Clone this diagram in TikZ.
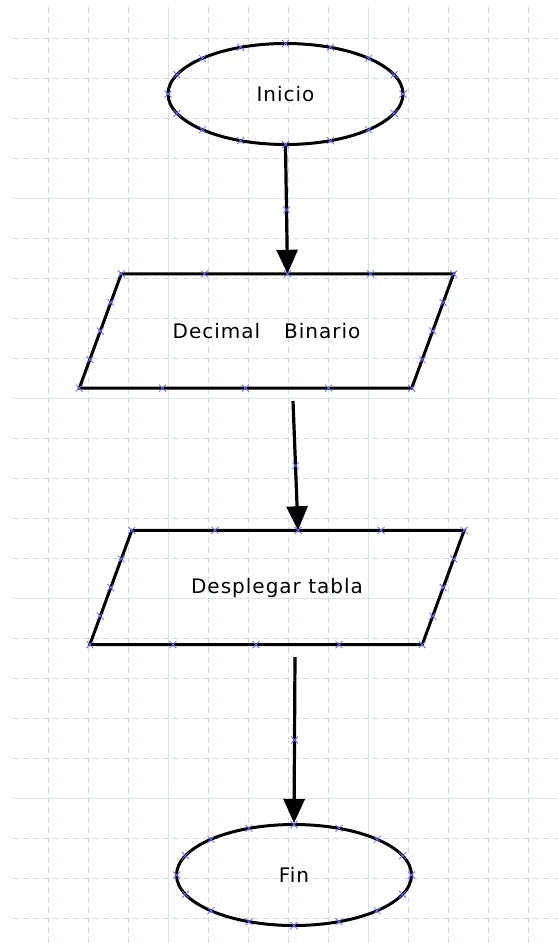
\documentclass[tikz,border=0pt]{standalone}
\usepackage{fontspec}
\setmainfont{DejaVu Sans}[LetterSpace=5]
\usetikzlibrary{shapes.geometric,arrows.meta,calc}

\definecolor{gridcol}{RGB}{200,221,221}
\definecolor{gridmaj}{RGB}{214,228,228}
\definecolor{markcol}{RGB}{110,110,245}

\tikzset{
  xmk/.pic={\draw[markcol, line width=0.8pt, arrows=-] (-3.5,-3.5) -- (3.5,3.5) (-3.5,3.5) -- (3.5,-3.5);}
}

\begin{document}
\begin{tikzpicture}[x=1pt, y=-1pt,
    terminal/.style={draw, ellipse, line width=3pt, minimum width=235, minimum height=101,
      inner sep=0pt, font=\fontsize{20}{24}\selectfont},
    iotext/.style={rectangle, minimum width=332, minimum height=114,
      inner sep=0pt, font=\fontsize{20}{24}\selectfont},
    iobox/.style={draw, line width=3pt, line join=miter},
    flow/.style={line width=3.2pt, -{Triangle[length=24pt,width=21pt]}},
    gridminor/.style={gridcol, line width=1pt, dash pattern=on 6pt off 4pt},
    gridmajor/.style={gridmaj, line width=1pt}]

  \useasboundingbox (0,0) rectangle (558,943);
  \fill[white] (0,0) rectangle (558,943);

  % grid
  \foreach \gx in {48,88,...,528} \draw[gridminor] (\gx,7) -- (\gx,943);
  \foreach \gy in {38,78,...,918} \draw[gridminor] (13,\gy) -- (558,\gy);
  \foreach \gx in {168,368} \draw[gridmajor] (\gx,7) -- (\gx,943);
  \foreach \gy in {198,398,598,798} \draw[gridmajor] (13,\gy) -- (558,\gy);

  % shapes
  \node[terminal] (inicio) at (285.5,94) {Inicio};
  \node[iotext] (p1) at (266.5,331) {Decimal\hspace{24pt}Binario};
  \node[iotext] (p2) at (277,587.5) {Desplegar tabla};
  \node[terminal] (fin) at (294,875) {Fin};

  % parallelogram outlines (slant 42)
  \foreach \p in {p1,p2} {
    \coordinate (\p tl) at ($(\p.north west)+(21,0)$);
    \coordinate (\p tr) at ($(\p.north east)+(21,0)$);
    \coordinate (\p br) at ($(\p.south east)+(-21,0)$);
    \coordinate (\p bl) at ($(\p.south west)+(-21,0)$);
    \coordinate (\p top) at ($(\p.north)+(21,0)$);
    \draw[iobox] (\p tl) -- (\p tr) -- (\p br) -- (\p bl) -- cycle;
  }

  % connectors
  \coordinate (s2) at (293,401);
  \coordinate (s3) at (295,657);
  \draw[flow] (inicio.south) -- (p1top);
  \draw[flow] (s2) -- (p2top);
  \draw[flow] (s3) -- (fin.north);

  % connection marks
  \foreach \t in {0,22.5,...,337.5} {
    \pic at ($(inicio.center)+({117.5*cos(\t)},{50.5*sin(\t)})$) {xmk};
    \pic at ($(fin.center)+({117.5*cos(\t)},{50.5*sin(\t)})$) {xmk};
  }
  \foreach \p in {p1,p2} {
    \foreach \k in {0,1,2,3} {
      \pic at ($(\p tl)!\k/4!(\p tr)$) {xmk};
      \pic at ($(\p tr)!\k/4!(\p br)$) {xmk};
      \pic at ($(\p br)!\k/4!(\p bl)$) {xmk};
      \pic at ($(\p bl)!\k/4!(\p tl)$) {xmk};
    }
  }
  \pic at ($(inicio.south)!0.5!(p1top)$) {xmk};
  \pic at ($(s2)!0.5!(p2top)$) {xmk};
  \pic at ($(s3)!0.5!(fin.north)$) {xmk};
\end{tikzpicture}
\end{document}
